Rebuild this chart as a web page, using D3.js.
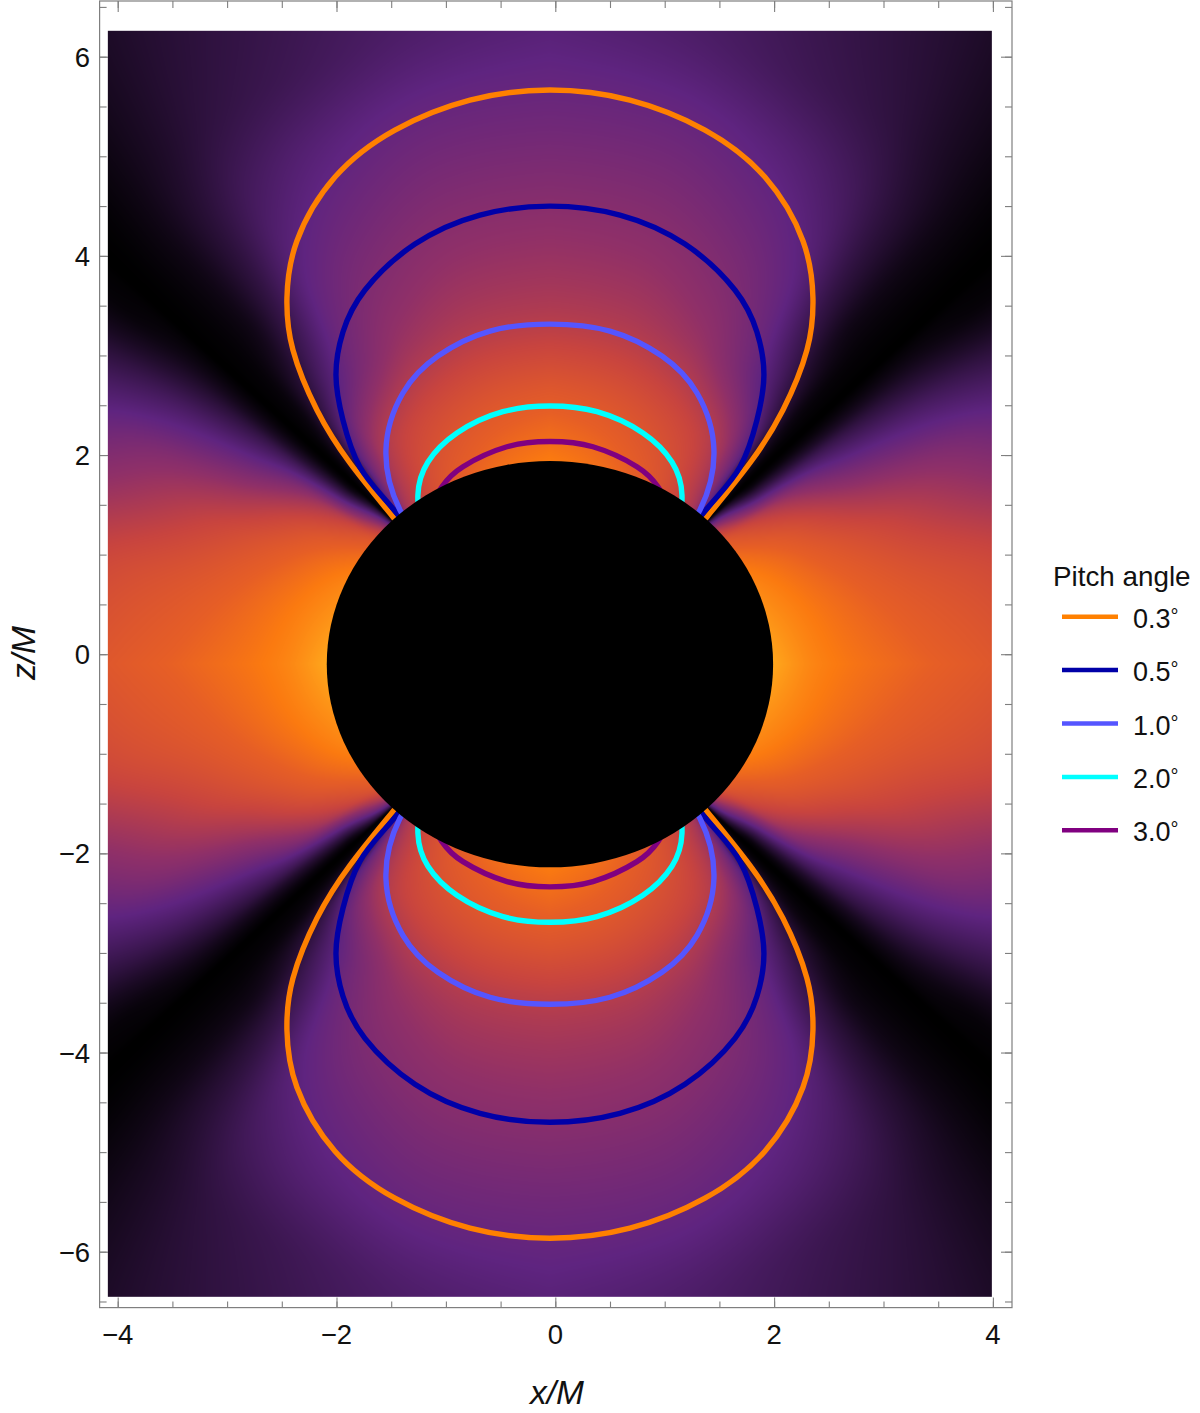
<!DOCTYPE html>
<html><head><meta charset="utf-8">
<script src="https://cdn.jsdelivr.net/npm/d3@7"></script>
<style>
html,body{margin:0;padding:0;background:#fff}
svg{display:block}
text{font-family:"Liberation Sans",Arial,sans-serif;fill:#111}
</style></head><body>
<svg id="c" width="1200" height="1413"></svg>
<script>
// ---- axes
const xTicks=[-4,-2,0,2,4];
const zTicks=[-6,-4,-2,0,2,4,6];
const xMinor=[-4,-3.5,-3,-2.5,-2,-1.5,-1,-.5,0,.5,1,1.5,2,2.5,3,3.5,4];
const zMinor=[-6.5,-6,-5.5,-5,-4.5,-4,-3.5,-3,-2.5,-2,-1.5,-1,-.5,0,.5,1,1.5,2,2.5,3,3.5,4,4.5,5,5.5,6,6.5];
const xDomain=[-4,4], zDomain=[-6,6];
const fieldX=[-4.09,3.99], fieldZ=[-6.455,6.26];
// ---- shadow
const centreX=-0.049, centreZ=-0.1, shadowRadius=2.04;
// ---- legend
const pitchAngles=["0.3","0.5","1.0","2.0","3.0"];
const pitchColors=["#ff8000","#0000a8","#5555ff","#00ffff","#800080"];
// ---- contour half-profiles: [half width in x, z] from apex to the shadow
const curve03=[[0,5.665],[.731,5.564],[1.417,5.263],[1.965,4.791],[2.313,4.149],[2.404,3.576],[2.349,3.054],[2.130,2.452],[1.828,1.920],[1.435,1.378],[1.097,.916]];
const curve05=[[0,4.500],[.640,4.410],[1.234,4.118],[1.691,3.657],[1.892,3.235],[1.956,2.803],[1.892,2.351],[1.737,1.880],[1.463,1.498],[1.097,.996]];
const curve10=[[0,3.315],[.548,3.245],[1.024,2.994],[1.344,2.623],[1.499,2.050],[1.371,1.448],[1.079,.986]];
const curve20=[[0,2.492],[.430,2.435],[.850,2.221],[1.115,1.930],[1.207,1.598],[1.170,1.147]];
const curve30=[[0,2.136],[.393,2.083],[.795,1.883],[.987,1.682],[1.143,1.398]];
const curves=[curve03,curve05,curve10,curve20,curve30];
// ---- background brightness, read on rays from the shadow centre
const rayAngles=[0,12,22,28,32,35,38,40,41.5,42.5,43.5,45,48,52,58,66,78,90];
const rayRadii=[2.05,2.7,3.6,4.6,5.6,6.5,7.9];
const ray205=[1.05,.98,.93,.88,.84,.80,.70,.55,.30,.02,.10,.40,.60,.66,.74,.80,.85,.88];
const ray270=[.90,.87,.82,.76,.68,.58,.34,.15,.03,0,.02,.12,.40,.57,.66,.71,.75,.77];
const ray360=[.82,.77,.68,.56,.44,.33,.20,.08,.02,0,.01,.03,.14,.28,.42,.52,.57,.58];
const ray460=[.75,.69,.54,.44,.33,.24,.13,.06,.02,0,.005,.015,.05,.16,.33,.41,.46,.47];
const ray560=[.62,.56,.42,.30,.23,.15,.06,.02,.01,0,.003,.015,.05,.13,.24,.31,.36,.37];
const ray650=[.50,.44,.33,.22,.16,.10,.04,.015,.005,0,.002,.01,.04,.09,.16,.21,.27,.30];
const ray790=[.38,.33,.25,.16,.12,.07,.03,.01,.003,0,.001,.008,.03,.07,.12,.17,.22,.25];
const rays=[ray205,ray270,ray360,ray460,ray560,ray650,ray790];
const heatStops=[0,.33,.5,.66,.8,.88,1];
const heatColors=["#000000","#5f2480","#903068","#c8443f","#e65e26","#fb7a10","#ffa61c"];

const svg=d3.select("#c");
const x=d3.scaleLinear().domain(xDomain).range([117.7,992.9]);
const z=d3.scaleLinear().domain(zDomain).range([1251.7,56.7]);
const frame={l:99.6,r:1012,t:1,b:1307.6};
const grey="#7f7f7f";

function axis(gen,tr,vals,len){
  const g=svg.append("g").attr("transform",tr).call(gen.tickValues(vals).tickSizeInner(len).tickSizeOuter(0).tickPadding(0).tickFormat(""));
  g.select(".domain").remove();
  g.selectAll("line").attr("stroke",grey).attr("stroke-width",1.1);
}
axis(d3.axisBottom(x),`translate(0,${frame.t})`,xMinor,7);
axis(d3.axisBottom(x),`translate(0,${frame.t})`,xTicks,11);
axis(d3.axisTop(x),`translate(0,${frame.b})`,xMinor,6);
axis(d3.axisTop(x),`translate(0,${frame.b})`,xTicks,10);
axis(d3.axisRight(z),`translate(${frame.l},0)`,zMinor,7);
axis(d3.axisRight(z),`translate(${frame.l},0)`,zTicks,11);
axis(d3.axisLeft(z),`translate(${frame.r},0)`,zMinor,7);
axis(d3.axisLeft(z),`translate(${frame.r},0)`,zTicks,11);
svg.append("rect").attr("x",frame.l).attr("y",frame.t).attr("width",frame.r-frame.l).attr("height",frame.b-frame.t)
  .attr("fill","none").attr("stroke",grey).attr("stroke-width",1.2);

// tick labels
const fs=27.5, fmt=d3.format("d");
svg.append("g").selectAll("text").data(xTicks).join("text")
  .attr("x",d=>x(d)).attr("y",1344).attr("text-anchor","middle").attr("font-size",fs).text(fmt);
svg.append("g").selectAll("text").data(zTicks).join("text")
  .attr("x",90).attr("y",d=>z(d)+10).attr("text-anchor","end").attr("font-size",fs).text(fmt);

// background field: smooth (monotone) reading between the table entries
const heat=d3.scaleLinear().domain(heatStops).range(heatColors).clamp(true);
const lut=d3.range(1025).map(i=>d3.rgb(heat(i/1024)));
const x0=x(fieldX[0]),x1=x(fieldX[1]),y0=z(fieldZ[1]),y1=z(fieldZ[0]);
const W=Math.round(x1-x0),H=Math.round(y1-y0);
const cx=x(centreX),cy=z(centreZ);
function slopes(xs,ys){
  const n=xs.length,d=new Array(n).fill(0);
  const s=d3.range(n-1).map(i=>(ys[i+1]-ys[i])/(xs[i+1]-xs[i]));
  d[0]=s[0];d[n-1]=s[n-2];
  for(let i=1;i<n-1;i++){
    if(s[i-1]*s[i]<=0){d[i]=0;continue;}
    const h0=xs[i]-xs[i-1],h1=xs[i+1]-xs[i],w1=2*h1+h0,w2=h1+2*h0;
    d[i]=(w1+w2)/(w1/s[i-1]+w2/s[i]);
  }
  return d;
}
function herm(xs,ys,d,v){
  let i=Math.max(1,Math.min(d3.bisectRight(xs,v),xs.length-1));
  const h=xs[i]-xs[i-1],t=Math.max(0,Math.min(1,(v-xs[i-1])/h)),t2=t*t,t3=t2*t;
  return (2*t3-3*t2+1)*ys[i-1]+(t3-2*t2+t)*h*d[i-1]+(-2*t3+3*t2)*ys[i]+(t3-t2)*h*d[i];
}
const raySlopes=rays.map(r=>slopes(rayAngles,r));
const angleSteps=901;
const rowLut=rays.map((r,i)=>Float32Array.from(d3.range(angleSteps),k=>herm(rayAngles,r,raySlopes[i],k/10)));
const cv=document.createElement("canvas");cv.width=W;cv.height=H;
const ctx=cv.getContext("2d"),im=ctx.createImageData(W,H);
const tmp=new Array(rays.length);
for(let py=0;py<H;py++)for(let px=0;px<W;px++){
  const dx=Math.abs(x0+px+.5-cx),dy=Math.abs(y0+py+.5-cy);
  const r=Math.hypot(dx,dy)/100,a=Math.atan2(dy,dx)*180/Math.PI;
  const af=a*10,a0=Math.min(899,Math.floor(af)),at=af-a0;
  for(let q=0;q<rays.length;q++)tmp[q]=rowLut[q][a0]*(1-at)+rowLut[q][a0+1]*at;
  const v=Math.max(0,Math.min(1,herm(rayRadii,tmp,slopes(rayRadii,tmp),r)));
  const c=lut[Math.round(v*1024)],k=(py*W+px)*4;
  im.data[k]=c.r;im.data[k+1]=c.g;im.data[k+2]=c.b;im.data[k+3]=255;
}
ctx.putImageData(im,0,0);
svg.append("image").attr("x",x0).attr("y",y0).attr("width",W).attr("height",H).attr("href",cv.toDataURL());

// contours: each half-profile mirrored left/right, upper and lower lobe
const line=d3.line().x(d=>x(d[0])).y(d=>z(d[1])).curve(d3.curveNatural);
curves.forEach((c,i)=>{
  [1,-1].forEach(sz=>{
    const pts=[...c.slice().reverse().map(p=>[centreX-p[0],centreZ+sz*(p[1]-centreZ)]),
               ...c.slice(1).map(p=>[centreX+p[0],centreZ+sz*(p[1]-centreZ)])];
    svg.append("path").attr("d",line(pts)).attr("fill","none").attr("stroke",pitchColors[i]).attr("stroke-width",5.4);
  });
});

// shadow
svg.append("ellipse").attr("cx",cx).attr("cy",cy)
  .attr("rx",x(centreX+shadowRadius)-cx).attr("ry",cy-z(centreZ+shadowRadius)).attr("fill","#000");

// axis titles
function title(sel){
  sel.attr("font-size",33.5).attr("font-style","italic").attr("text-anchor","middle");
}
svg.append("text").attr("x",557).attr("y",1404).call(title).text("x/M");
svg.append("text").attr("transform","translate(35,653) rotate(-90)").call(title).text("z/M");

// legend
svg.append("text").attr("x",1053).attr("y",586).attr("font-size",27.8).text("Pitch angle");
const leg=svg.append("g").selectAll("g").data(pitchAngles).join("g")
  .attr("transform",(d,i)=>`translate(0,${616.7+i*53.4})`);
leg.append("line").attr("x1",1062).attr("x2",1118).attr("stroke",(d,i)=>pitchColors[i]).attr("stroke-width",4.5);
const lt=leg.append("text").attr("x",1133).attr("y",11).attr("font-size",27).text(d=>d);
lt.append("tspan").attr("font-size",20).attr("dy",-5).text("°");
</script>
</body></html>
